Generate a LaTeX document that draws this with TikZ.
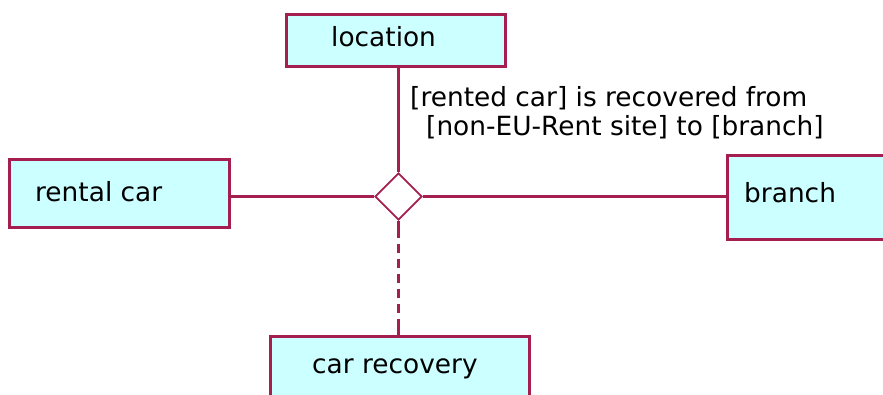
\documentclass[tikz,border=0pt]{standalone}
\usepackage{fontspec}
\setmainfont{DejaVu Sans}
\definecolor{edge}{RGB}{165,30,80}
\definecolor{boxfill}{RGB}{204,255,255}
\tikzset{
  entity/.style={draw=edge, fill=boxfill, line width=2.6pt, inner sep=0pt, anchor=north west},
  lbl/.style={font=\fontsize{26.4}{30}\selectfont, text=black, inner sep=0pt, anchor=base west},
  conn/.style={draw=edge, line width=2.4pt},
  rel/.style={draw=edge, fill=white, line width=1.8pt, shape=diamond, minimum width=47pt, minimum height=47pt, inner sep=0pt}
}
\usetikzlibrary{shapes.geometric}
\begin{document}
\begin{tikzpicture}[x=1pt,y=-1pt]
\useasboundingbox (0,0) rectangle (883,395);
\clip (0,0) rectangle (883,395);
% boxes
\node[entity, minimum width=219pt, minimum height=52pt] (loc) at (285,13) {};
\node[entity, minimum width=220pt, minimum height=68pt] (rc) at (8,158) {};
\node[entity, minimum width=180pt, minimum height=84pt] (br) at (726,154) {};
\node[entity, minimum width=259pt, minimum height=80pt] (cr) at (269,335) {};
% diamond
\node[rel] (d) at (398.5,196.5) {};
% connectors
\draw[conn] (d.north) -- (d.north |- loc.south);
\draw[conn] (d.west) -- (d.west -| rc.east);
\draw[conn] (d.east) -- (d.east -| br.west);
\draw[conn, dash pattern=on 17pt off 6pt on 9pt off 6pt on 9pt off 6pt on 9pt off 6pt on 9pt off 6pt on 9pt off 6pt on 20pt] (d.south) -- (d.south |- cr.north);
% texts
\node[lbl] (tloc) at (331,47) {location};
\node[lbl] (trc) at (35,202) {rental car};
\node[lbl] (tbr) at (744,203) {branch};
\node[lbl] (tcr) at (312,373) {car recovery};
\node[lbl] (t1) at (410,107) {[rented car] is recovered from};
\node[lbl] (t2) at (426,136) {[non-EU-Rent site] to [branch]};
\end{tikzpicture}
\end{document}
